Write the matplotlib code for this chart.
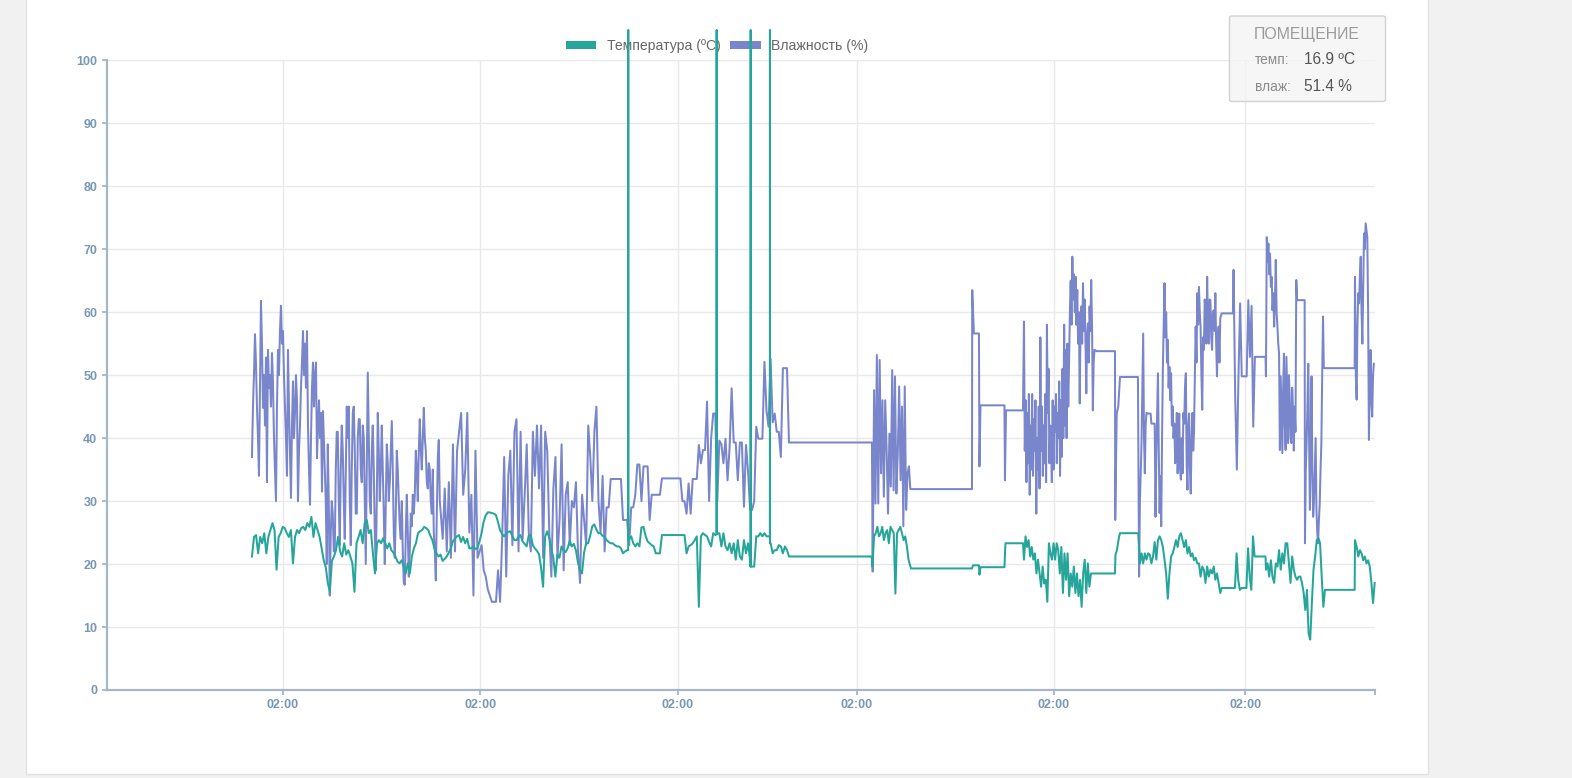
import matplotlib
matplotlib.use("Agg")
import matplotlib.pyplot as plt
import numpy as np
from matplotlib.patches import Rectangle, Patch, FancyBboxPatch

plt.rcParams['font.family'] = ['Liberation Sans', 'DejaVu Sans']

# ---------------- data (time in hours) ----------------
TICK_HOURS = [21.5, 45.6, 69.7, 91.5, 115.5, 138.9]
TICK_LABELS = ['02:00'] * 6
X_END = 154.7

# Humidity (%), dense blocks: (start hour, step hours, values)
HUM_1A = [37,45,50,56.5,52,45,40,34,48,61.8, 55,44.8,50,42,52.8,33,54,48,50,45,
          53.5,49,40,35,30,45,54,50,57,61, 55,57,50,45,40,34,54,45,38,30.5,
          42,49,40,44,50,46,30,38,42,48, 52,57,50,55,48,57,42,35,29.4,40,
          48,52,45,50,52,36.8,42,46,40,44, 31.5,44.3]
HUM_1B = [30,20,39,30,15,25,30,28,22,22, 35,41,41,30,23,35,42,38,30,24,
          35,45,40,45,30,23,35,44,45,38, 28,28,40,43,43,35,33,42,40,30,
          20,35,50.4,40,30,28,38,42,35,25, 19,30,44,38,30,35,42,35,28,20,
          30,39,36,30,33,38,42.7,35,25,21, 28,38,35,30,26,24,30,22,17,16.7,
          25,31,25,18,22,28,26,31,28,31, 38,35,30,38,43,38,35,40,44.8,40,
          38,33,32,36,35,30,28,35,25,22, 17.4,28,37,39.7,30]
HUM_1C = [24,32,22,33,21,39,22,38,41,44, 31,35,44,25,31,15,38,21,22,23,
          19,18,16,15,14,14,14,19,14,24, 37,18,34,38,23,41,43,22,41,24,
          31,39,25,22,41,34,42,32,42,21, 41,38,25,18,32,37,21,27,39,19,
          31,33,23,30,29,33,22,17,31,27, 23,42,37,30,41,45,30,25,34,22]
HUM_2 = [29,29,33.5,33.5,33.5,33.5,33.5,33.5,27,27, 27,23,29,29,31,35.8,35.8,30,35.5,35.5,
         35.5,27,31,31,31,31,31,33.6,33.6,33.6, 33.6,33.6,33.6,33.6,33.6,33.6,33.6,30,30,28,
         32.8,28,33.5,33.5,33.5,38.9,36,38.1,38.1,45.8, 30,40,43.9,43.9,30,39.6,39,36,39.9,33.3,
         38.5,47.9,39.3,39.3,33.3,39.3,39.3,29.1,38.9,34.7, 28.6,28.6,30,41.8,39.9,39.9,39.9,52.1,44.3,41.8,
         52.6,42.5,43.9,41,41,37,51.1,51.1,51.1]
HUM_3 = [18.8,47.6,29.6,53.2,29.6,52.4,34.4,46,30.7,46,38.1,28,40.7,32.3,50.8,31.7,49.8,31.2,
         37.6,48.2,33.3,45,26,48.2,28.6,34.4,35.5,31.9]
HUM_4 = [58.5,38,46,33,44,36,47,31,42,35, 47,34,43,38,46,28,40,35,45,32,
         56,38,45,34,42,36,47,33,58,44, 51,36,42,39,33,46,35,45,41,47,
         36,44,40,49,34,46,37,51,40,58, 42,54,40,55,45,52,
         60,65,58,68.8,62,66,60,65.6,58,63.5, 55,60,45.5,58,60.9,55,64.6,57,62,55.6,
         47.1,56,58.2,52,60.9,57,65.1,58,44.4,52, 54]
HUM_5 = [39.7,18,30,34.4,39.7,48,56.6,40,34.4,42,44,43.9,
         43.9,43.9,43.9,43.9,42.3,42.3,42.3,42.3,42.3,27.5,
         37,44,50.3,38,28.1,34,26,40,51.3,58,
         64.6,56,60,52,55.6,48,51.3,46,50.3,42,45,40,
         42.3,36,38.6,44,34.4,40,43.9,35,33.4,40,34.4,44,42.3,48,50.3,36,31.8,42,43.9,35,31.2,40,44,38,
         41,50,57.7,52,63,58,64,60,57.7,50,44.5,56,54,62,60.3,55,65.6,58,55,62,61.9,56,54,60,60.3,57,
         63,55,49.8,56,57.7,52,59]
HUM_6 = [66.7,46.6,35,49.8,61.4,49.8,49.8,49.8,49.8,61.9,52.9,61,41.8,52.9]
HUM_7 = [49.8,71.9,68,70.9,66,69.3,64,65.6,60.3,63,57.7,62,68.3,60,57.7,55,53.4,
         38.1,49.8,44,37.6,48,53.4,42,38.1,52.9,46,39.2,50,46.6,40,39.2,48,44.5,38,45,41,65.1,61.9]
HUM_8 = [23.3,35,39.2,45,51.8,40,28.6,38,49.8,35,27.5,30,35,40,28.6,25,23.3,27,29.6,35,39.2,50,59.3,51.1]
HUM_9 = [65.6,50,46.1,58,63,61.4,66,68.8,60,55,64,72.5,70,74.1,73,71.9,60,39.7,48,54,46,43.4,50,51.8]
HUM_BLOCKS = [(17.74, 0.122, HUM_1A), (26.74, 0.122, HUM_1B), (41.0, 0.25, HUM_1C),
              (60.99, 0.25, HUM_2), (93.44, 0.17, HUM_3),
              (111.89, 0.1, HUM_4), (125.83, 0.1, HUM_5), (137.45, 0.2, HUM_6),
              (141.4, 0.1, HUM_7), (146.16, 0.1, HUM_8), (152.26, 0.1, HUM_9)]
# held (unchanged) readings: (from hour, to hour, value)
HUM_HOLDS = [(83.23, 93.35, 39.3), (98.11, 105.55, 31.9), (120.73, 122.99, 53.8),
             (136.0, 137.37, 59.8), (140.1, 141.35, 52.9), (145.45, 146.12, 61.9),
             (148.6, 152.22, 51.1)]
HUM_PTS_T = [105.58, 105.79, 106.40, 106.46, 106.59, 109.51, 109.57, 109.70, 111.77,
             123.02, 123.20, 123.39, 123.60, 125.79]
HUM_PTS_V = [63.5, 56.6, 56.6, 35.5, 45.2, 45.2, 33.3, 44.4, 44.4, 27.0, 43.9, 45.0, 49.7, 49.7]

# Temperature (ºC)
TMP_1 = [21.2,24.3,24.6,21.7,24.3,23.3,24.9,21.7,24.3,25.4, 26.5,25.4,19.1,24.3,24.9,25.9,25.7,24.9,24.3,25.4,
         20.1,24.3,25.4,24.9,25.7,25.9,25.4,26.5,25.9,27.5, 24.3,26.5,25.4,24.3,22.5,20.6,19.5,17,15.6,20.5,
         21.2,22.2,24.3,22,21.2,23.3,21.5,22.2,21.2,20.1, 15.6,23.3,24.3,25.4,23.3,26.5,27,24.9,25.4,21.7,
         18.5,23.3,23.8,23.3,24.1,23.3,22.5,23.3,22.2,21.8, 21.2,20.4,20.1,20.6,19.6,18.5,20.1,18.5,21.2,22.5,
         23.3,24.9,25.2,25.4,25.9,25.7,25.4,24.5,23.8,22.5, 21.7,21.2,21.5,20.5,20.8,21.2,21.8,22.5,23.6,24,
         24.4,24.6,23.5,24.3,23.3,24,22.5,22.5,22.8,22.4, 22.5,23.6,24.9,26.7,27.7,28.2,28.2,28.1,28,27.8,
         26.7,25.4,24.8,24.4,24.8,25.1,25.2,24.5,23.8,23.8, 24.3,24.6,23.6,23.2,22.8,24.5,24.6,23,22.5,22.1,
         21.6,19.5,16.4,24.3,25.2,24.2,22.5,21,18,21.5, 21,22.8,22.2,21.9,22.5,23.7,22.8,23.2,22.2,20.3,
         19.1,18.5,21.8,23.3,23.3,24.5,26,26.3,25.5,24.9, 24.9,24.5,24.3]
TMP_2 = [23.8,23.5,23.3,23.3,23,22.8,22.8,22.5,21.7,22, 22.2,24,24.4,23.3,22.8,23.3,22.8,25.8,25.9,24.5,
         23.6,23.3,23,22.8,21.7,21.7,21.7,24.6,24.6,24.6, 24.6,24.6,24.6,24.6,24.6,24.6,24.6,24.6,24.6,21.7,
         22.8,23,23.3,23.8,24.4,13.2,24.4,24.9,24.6,24.4, 23.5,22.8,24.9,24.6,24.8,24.9,22.8,24.9,22.8,22.2,
         23.3,21.7,23.3,20.7,23.8,21.2,20.7,23.8,21.7,23.3, 20.7,19.6,19.6,24.4,24.4,24.9,24.4,24.9,24.4,24.4,
         23.3,21.7,22.2,22.2,23,22.8,21.7,22.8,22.2]
TMP_3 = [19.6,24.4,24.9,25.9,24.4,24.9,25.9,23.8,24.9,25.4,23.3,25.9,25.4,24.9,15.3,24.9,25.4,25.9,
         24.9,23.8,24.4,22.8,20.7]
TMP_4 = [20.7,24.4,22.7,23.8,21.2,22.7,20.7,21.7,18.5,20.7,18.5,16.4,19.6,16.9,17.5,14,23.3,21.7,
         20.7,23.3,20.7,23.3,22.2,18.5,22.7,15.4,21.7,17.5,21.7,14.9,18.5,16.4,19.6,15.4,18.5,14.9,
         17.5,13.2,18.5,20.7,15.4,20.1,16.4,18.5,18.5]
TMP_5 = [24.9,20.1,21.7,20.1,21.7,20.7,21.7,21.5,20.1,21.2, 23.5,20.7,23.8,24.4,23.8,22.7,20.7,18.5,14.5,18.5,
         21.2,21.7,22.7,23.8,22.7,24.4,24.9,23.8,22.7,23.8, 21.7,22.7,21.2,21.7,20.6,21,20.1,20.1,18,19.6,
         19.1,17,19.6,18,19.1,18.5,19.6,17.5,18.5,17, 15.4]
TMP_6 = [16.2,21.7,17.5,15.9,16.2,16.2,16.2,16.2,22.5,18,15.9,24.4,21.2]
TMP_7 = [19.1,20.1,18,20.6,18,17,20.1,19.6,22.2,19.1,21.7,20.1,23.3,23.3,20.1,17,21.2,19.1,18,17.5,
         18,18,17,15.4,12.7,15.9,9,8,13.8,19.1,21.2,23.8,24.1,23.3,18,13.2,15.9]
TMP_8 = [23.8,22.8,21.2,22.2,21.7,20.6,21.2,20.1,20.6,19.6,17,13.8,17]
TMP_BLOCKS = [(17.74, 0.25, TMP_1), (60.99, 0.25, TMP_2), (93.41, 0.2, TMP_3),
              (111.89, 0.19, TMP_4), (125.83, 0.2, TMP_5), (137.62, 0.2, TMP_6),
              (141.4, 0.2, TMP_7), (152.26, 0.2, TMP_8)]
TMP_HOLDS = [(83.23, 93.32, 21.2), (136.0, 137.58, 16.2), (140.07, 141.35, 21.2),
             (148.65, 152.22, 15.9)]
TMP_PTS_T = [98.11, 105.55, 105.67, 106.40, 106.46, 106.59, 109.51, 109.63, 111.77,
             120.73, 122.99, 123.05, 123.23, 123.48, 123.60, 125.79]
TMP_PTS_V = [19.3, 19.3, 19.8, 19.8, 18.3, 19.5, 19.5, 23.3, 23.3,
             18.5, 18.5, 21.5, 22.2, 24.3, 24.9, 24.9]
# erroneous sensor spikes (run off the top of the chart)
SPIKE_T = [63.63, 74.41, 78.56, 80.91]
SPIKE_BEFORE = [22.2, 24.7, 19.6, 24.4]
SPIKE_AFTER = [23.8, 24.9, 19.6, 23.3]
SPIKE_TOP = 104.8

CUR_TEMP = '16.9 ºC'
CUR_HUM = '51.4 %'

TEMP_COLOR = '#26a69a'
HUM_COLOR = '#7986cb'


def build(blocks, holds, pts_t, pts_v):
    t, v = [], []
    for t0, dt, vals in blocks:
        t += list(t0 + dt * np.arange(len(vals)))
        v += list(vals)
    for a, b, val in holds:
        t += [a, b]
        v += [val, val]
    t += list(pts_t)
    v += list(pts_v)
    t = np.array(t, dtype=float)
    v = np.array(v, dtype=float)
    o = np.argsort(t, kind='stable')
    return t[o], v[o]


hum_t, hum_v = build(HUM_BLOCKS, HUM_HOLDS, HUM_PTS_T, HUM_PTS_V)
sp_t, sp_v = [], []
for ts, vb, va in zip(SPIKE_T, SPIKE_BEFORE, SPIKE_AFTER):
    sp_t += [ts - 0.01, ts, ts + 0.01]
    sp_v += [vb, SPIKE_TOP, va]
tmp_t, tmp_v = build(TMP_BLOCKS, TMP_HOLDS, TMP_PTS_T + sp_t, TMP_PTS_V + sp_v)

# ---------------- figure ----------------
W, H = 1572, 778
fig = plt.figure(figsize=(W / 100, H / 100), dpi=100, facecolor='#f1f1f1')

card = Rectangle((26 / W, (H - 774) / H), (1427.5 - 26) / W, 774 / H + 0.02,
                 transform=fig.transFigure, facecolor='white', edgecolor='#e1e1e1',
                 lw=1.0, zorder=-5)
fig.patches.append(card)

ax_l, ax_r, ax_top, ax_bot = 106.5, 1375, 60.2, 690
ax = fig.add_axes([ax_l / W, (H - ax_bot) / H, (ax_r - ax_l) / W, (ax_bot - ax_top) / H])
ax.set_facecolor('white')

ax.plot(hum_t, hum_v, color=HUM_COLOR, lw=1.45, zorder=2, clip_on=False)
ax.plot(tmp_t, tmp_v, color=TEMP_COLOR, lw=1.45, zorder=3, clip_on=False)

ax.set_xlim(0, X_END)
ax.set_ylim(0, 100)
ax.set_yticks(np.arange(0, 101, 10))
ax.set_xticks(TICK_HOURS)
ax.set_xticklabels(TICK_LABELS)
ax.set_xticks([X_END], minor=True)

for s in ['top', 'right']:
    ax.spines[s].set_visible(False)
axis_col = '#a5b7c6'
for s in ['left', 'bottom']:
    ax.spines[s].set_color(axis_col)
    ax.spines[s].set_linewidth(1.6)

lab_col = '#7897b5'
ax.tick_params(axis='both', which='both', color=axis_col, length=3.6, width=1.3,
               labelcolor=lab_col, labelsize=9, pad=3.0)
for lab in ax.get_xticklabels() + ax.get_yticklabels():
    lab.set_fontweight('bold')

ax.set_axisbelow(True)
ax.grid(True, which='major', color='#e9e9e9', lw=1.0)

leg = ax.legend([Patch(facecolor=TEMP_COLOR), Patch(facecolor=HUM_COLOR)],
                ['Температура (ºC)', 'Влажность (%)'],
                loc='center', bbox_to_anchor=(0.4812, 1.023), ncol=2, frameon=False,
                fontsize=10.1, handlelength=2.2, handleheight=0.55, handletextpad=0.72,
                columnspacing=0.7, labelcolor='#666666', borderaxespad=0, borderpad=0)
leg.set_zorder(1)

# info box
bx0, bx1, by0, by1 = 1229.5, 1385.5, 16, 101.5
box = FancyBboxPatch((bx0 / W, 1 - by1 / H), (bx1 - bx0) / W, (by1 - by0) / H,
                     boxstyle='round,pad=0,rounding_size=0.002', transform=fig.transFigure,
                     facecolor=(0.955, 0.955, 0.955, 0.8), edgecolor='#d2d2d2', lw=1.0, zorder=5)
fig.patches.append(box)
fig.text(1307 / W, 1 - 34 / H, 'ПОМЕЩЕНИЕ', ha='center', va='center', color='#9b9b9b',
         fontsize=11.4, zorder=6)
fig.text(1255 / W, 1 - 60.5 / H, 'темп:', ha='left', va='center', color='#8a8a8a',
         fontsize=9.8, zorder=6)
fig.text(1303.5 / W, 1 - 59.5 / H, CUR_TEMP, ha='left', va='center', color='#555555',
         fontsize=11.2, zorder=6)
fig.text(1255 / W, 1 - 87 / H, 'влаж:', ha='left', va='center', color='#8a8a8a',
         fontsize=9.8, zorder=6)
fig.text(1303.5 / W, 1 - 86.5 / H, CUR_HUM, ha='left', va='center', color='#555555',
         fontsize=11.2, zorder=6)

fig.savefig('out.png', dpi=100, facecolor=fig.get_facecolor())
